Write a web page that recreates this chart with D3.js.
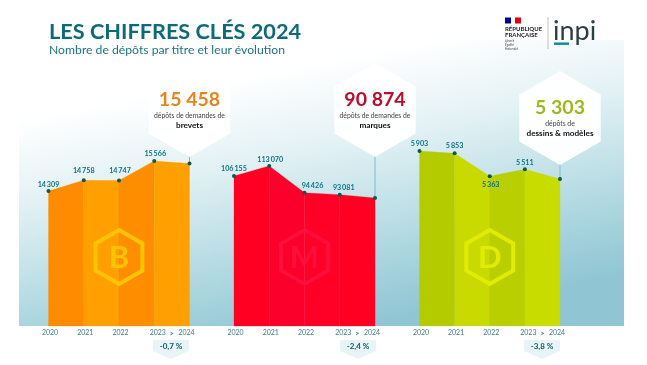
<!DOCTYPE html>
<html lang="fr">
<head>
<meta charset="utf-8">
<script src="https://cdn.jsdelivr.net/npm/d3@7"></script>
<style>
html, body { margin: 0; padding: 0; background: #fff; }
svg { display: block; font-family: Lato, "Open Sans", sans-serif; }
</style>
</head>
<body>
<div id="chart"></div>
<script>
const years = ["2020", "2021", "2022", "2023", "2024"];
const brevets = [14309, 14758, 14747, 15566, 15458];
const marques = [106155, 113070, 94426, 93081, 90874];
const dessins = [5903, 5853, 5363, 5511, 5303];
const evolutions = ["-0,7 %", "-2,4 %", "-3,8 %"];
const titres = ["brevets", "marques", "dessins & modèles"];
const totaux = ["15 458", "90 874", "5 303"];

const width = 647;
const height = 365;
const baseY = 326;

// thin spaces in the value labels, like the original
const fmt = d => String(d).replace(/\B(?=(\d{3})+$)/g, "\u2009");

const panels = [
    {
        values: brevets, letter: "B", x0: 48.5, x1: 189.5, domain: [8660, 15566], topY: 161,
        bands: ["#ff8b00", "#ff9f00", "#ff8d00", "#ffa000"], logo: "#ffc400",
        color: "#e8861a", dy: [-7, -10, -10, -8], dx: [0, 0, 1, 1],
        hexY: 110, lines: ["dépôts de demandes de"], total: 0, evoX: 171
    },
    {
        values: marques, letter: "M", x0: 234, x1: 375, domain: [1970, 113070], topY: 166,
        bands: ["#ff0024", "#fb002c", "#ff0028", "#ff0024"], logo: "#ff0a3a",
        color: "#bd0a2a", dy: [-7, -7, -7, -7], dx: [0, 1, 8, 4],
        hexY: 110, lines: ["dépôts de demandes de"], total: 1, evoX: 358
    },
    {
        values: dessins, letter: "D", x0: 419.5, x1: 560, domain: [2155, 5903], topY: 151,
        bands: ["#b4cb00", "#c8da00", "#b9cf00", "#c8dc00"], logo: "#e2ec00",
        color: "#a0b81e", dy: [-8, -8, 8, -7], dx: [0, 0, 1, 0],
        hexY: 118, lines: ["dépôts de"], total: 2, evoX: 542
    }
];

const svg = d3.select("#chart").append("svg")
    .attr("width", width)
    .attr("height", height)
    .attr("viewBox", `0 0 ${width} ${height}`);

const defs = svg.append("defs");
const grad = defs.append("linearGradient")
    .attr("id", "bg")
    .attr("gradientUnits", "userSpaceOnUse")
    .attr("x1", 280).attr("y1", 70)
    .attr("x2", 330).attr("y2", 330);
grad.append("stop").attr("offset", "0").attr("stop-color", "#ffffff");
grad.append("stop").attr("offset", "0.3").attr("stop-color", "#e4f2f5");
grad.append("stop").attr("offset", "0.6").attr("stop-color", "#bfe0e7");
grad.append("stop").attr("offset", "0.85").attr("stop-color", "#a0d0db");
grad.append("stop").attr("offset", "1").attr("stop-color", "#90c6d3");

defs.append("filter").attr("id", "soft")
    .append("feGaussianBlur").attr("stdDeviation", 0.3);

const root = svg.append("g").attr("filter", "url(#soft)");

root.append("rect")
    .attr("x", 19).attr("y", 40)
    .attr("width", 605).attr("height", baseY - 40)
    .attr("fill", "url(#bg)");

// title
root.append("text")
    .attr("x", 49).attr("y", 38.5)
    .attr("fill", "#0b6b78")
    .style("font-size", "21.7px")
    .style("font-weight", 700)
    .text("LES CHIFFRES CLÉS 2024");
root.append("text")
    .attr("x", 49).attr("y", 54)
    .attr("fill", "#1d7582")
    .style("font-size", "12.2px")
    .text("Nombre de dépôts par titre et leur évolution");

// logo
const logo = root.append("g");
[["#000091", 505], ["#ffffff", 511], ["#e1000f", 515]].forEach(d => {
    logo.append("rect").attr("x", d[1]).attr("y", 17.5)
        .attr("width", 6).attr("height", 6).attr("fill", d[0]);
});
logo.append("text").attr("x", 505).attr("y", 30.5)
    .attr("fill", "#222").style("font-size", "6px").style("font-weight", 700)
    .text("RÉPUBLIQUE");
logo.append("text").attr("x", 505).attr("y", 36.5)
    .attr("fill", "#222").style("font-size", "6px").style("font-weight", 700)
    .text("FRANÇAISE");
["Liberté", "Égalité", "Fraternité"].forEach((t, i) => {
    logo.append("text").attr("x", 505).attr("y", 42 + i * 3.8)
        .attr("fill", "#444").style("font-size", "3.2px").style("font-style", "italic")
        .text(t);
});
logo.append("line").attr("x1", 548).attr("x2", 548).attr("y1", 17).attr("y2", 49)
    .attr("stroke", "#999").attr("stroke-width", 0.6);
logo.append("text").attr("x", 553).attr("y", 40)
    .attr("fill", "#2f3f47").style("font-size", "27px").style("font-weight", 400)
    .text("inpi");
logo.append("rect").attr("x", 554).attr("y", 42.5)
    .attr("width", 15).attr("height", 2.4).attr("fill", "#0f8a9a");

const hexPoints = (cx, cy, r) => d3.range(6).map(i => {
    const a = Math.PI / 3 * i;
    return [cx + r * Math.sin(a), cy - r * Math.cos(a)];
});
const hexLine = d3.line().curve(d3.curveLinearClosed);

panels.forEach((p, pi) => {
    const g = root.append("g");
    const x = d3.scalePoint().domain(years).range([p.x0, p.x1]);
    const y = d3.scaleLinear().domain(p.domain).range([baseY, p.topY]);
    const pts = years.map((yr, i) => ({ year: yr, value: p.values[i] }));

    const area = d3.area()
        .x(d => x(d.year))
        .y0(baseY)
        .y1(d => y(d.value));

    // one band for each interval between two years
    g.selectAll(".band")
        .data(d3.pairs(pts))
        .enter()
        .append("path")
        .attr("class", "band")
        .attr("d", d => area(d))
        .attr("fill", (d, i) => p.bands[i])
        .attr("stroke", (d, i) => p.bands[i])
        .attr("stroke-width", 0.3);

    // watermark hexagon + letter
    const cx = x("2022");
    g.append("path")
        .attr("d", hexLine(hexPoints(cx, 257, 27)))
        .attr("fill", "none")
        .attr("stroke", p.logo)
        .attr("stroke-width", 4);
    g.append("text")
        .attr("x", cx).attr("y", 268)
        .attr("text-anchor", "middle")
        .attr("fill", p.logo)
        .style("font-size", "31px")
        .style("font-weight", 700)
        .text(p.letter);

    // callout hexagon and its stem
    const last = pts[pts.length - 1];
    g.append("line")
        .attr("x1", x(last.year)).attr("x2", x(last.year))
        .attr("y1", p.hexY + 40).attr("y2", y(last.value))
        .attr("stroke", "#7fb9c8").attr("stroke-width", 1);
    g.append("path")
        .attr("d", hexLine(hexPoints(x(last.year), p.hexY, 47)))
        .attr("fill", "#ffffff")
        .attr("fill-opacity", 0.96);

    g.append("text")
        .attr("x", x(last.year)).attr("y", p.hexY - 4)
        .attr("text-anchor", "middle")
        .attr("fill", p.color)
        .style("font-size", "19.5px")
        .style("font-weight", 700)
        .text(totaux[p.total]);
    g.append("text")
        .attr("x", x(last.year)).attr("y", p.hexY + 8)
        .attr("text-anchor", "middle")
        .attr("fill", "#444")
        .style("font-size", "6.8px")
        .text(p.lines[0]);
    g.append("text")
        .attr("x", x(last.year)).attr("y", p.hexY + 17.5)
        .attr("text-anchor", "middle")
        .attr("fill", "#111")
        .style("font-size", "8.2px")
        .style("font-weight", 700)
        .text(titres[pi]);

    // points
    g.selectAll(".pt")
        .data(pts)
        .enter()
        .append("circle")
        .attr("class", "pt")
        .attr("cx", d => x(d.year))
        .attr("cy", d => y(d.value))
        .attr("r", 2)
        .attr("fill", "#07594f");

    // value labels, last year sits in the callout
    g.selectAll(".val")
        .data(pts.slice(0, 4))
        .enter()
        .append("text")
        .attr("class", "val")
        .attr("x", (d, i) => x(d.year) + p.dx[i])
        .attr("y", (d, i) => y(d.value) + p.dy[i])
        .attr("dy", "0.35em")
        .attr("text-anchor", "middle")
        .attr("fill", "#0d7588")
        .style("font-size", "7.2px")
        .style("font-weight", 700)
        .text(d => fmt(d.value));

    // axis
    const axis = g.append("g")
        .attr("transform", `translate(0,${baseY})`)
        .call(d3.axisBottom(x).tickSize(0).tickPadding(4));
    axis.select(".domain").remove();
    axis.selectAll("text")
        .attr("fill", "#3f7d8c")
        .style("font-family", "Lato, sans-serif")
        .style("font-size", "7px")
        .attr("dx", d => d === "2023" ? 3 : d === "2024" ? -3.5 : 1);

    const mid = (x("2023") + x("2024")) / 2;
    g.append("text")
        .attr("x", mid).attr("y", baseY + 9.5)
        .attr("text-anchor", "middle")
        .attr("fill", "#1f6e7d")
        .style("font-size", "7px")
        .style("font-weight", 700)
        .text(">");

    // evolution badge
    g.append("path")
        .attr("d", hexLine([
            [p.evoX - 18, 340], [p.evoX + 18, 340], [p.evoX + 18, 351],
            [p.evoX, 359], [p.evoX - 18, 351]
        ]))
        .attr("fill", "#e8f4f7");
    g.append("text")
        .attr("x", p.evoX).attr("y", 346)
        .attr("dy", "0.35em")
        .attr("text-anchor", "middle")
        .attr("fill", "#0a5f6c")
        .style("font-size", "8px")
        .style("font-weight", 700)
        .text(evolutions[pi]);
});
</script>
</body>
</html>
